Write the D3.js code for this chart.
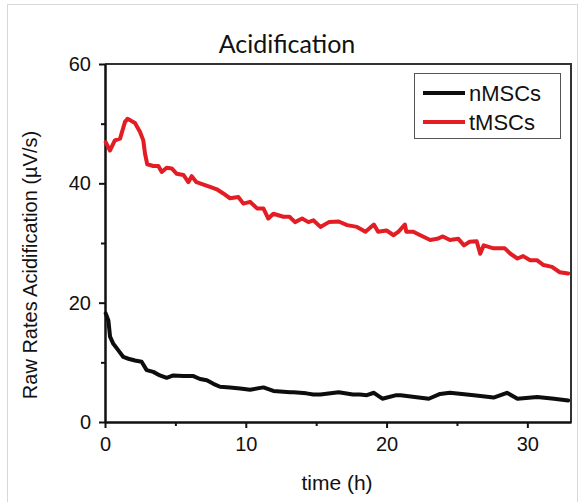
<!DOCTYPE html>
<html>
<head>
<meta charset="utf-8">
<script src="https://cdn.jsdelivr.net/npm/d3@7"></script>
<style>
  body { margin: 0; background: #fff; }
  svg { display: block; }
  .tick text { font-family: "Liberation Sans", Arial, sans-serif; font-size: 20px; fill: #111; }
</style>
</head>
<body>
<div id="chart"></div>
<script>
// Data (time in h, raw acidification rate in µV/s)
const tHours = [0.05, 0.35, 0.7, 1.07, 1.42, 1.6, 1.78, 2.13, 2.49, 2.72, 2.84, 3.0, 3.43, 3.79, 4.03, 4.38, 4.74,
  5.1, 5.57, 5.92, 6.16, 6.5, 7.0, 7.46, 7.94, 8.4, 8.88, 9.47, 9.83, 10.3, 10.8, 11.25, 11.6, 11.96, 12.67,
  13.1, 13.5, 14.0, 14.45, 14.8, 15.3, 15.9, 16.6, 17.2, 17.9, 18.5, 19.1, 19.4, 20.0, 20.5, 20.85, 21.3,
  21.4, 21.9, 22.4, 23.1, 23.6, 24.0, 24.5, 25.1, 25.5, 25.9, 26.4, 26.65, 26.9, 27.6, 28.1, 28.4, 28.8,
  29.3, 29.7, 30.2, 30.7, 31.15, 31.75, 32.3, 32.9];
const tValues = [46.9, 45.5, 47.2, 47.5, 50.3, 50.8, 50.6, 50.1, 48.6, 47.2, 45.0, 43.2, 42.9, 42.9, 41.9, 42.6, 42.5,
  41.6, 41.4, 40.2, 41.2, 40.2, 39.8, 39.4, 39.0, 38.3, 37.5, 37.7, 36.6, 36.9, 35.8, 35.8, 34.1, 34.9, 34.4,
  34.4, 33.5, 34.1, 33.5, 33.8, 32.7, 33.5, 33.6, 33.0, 32.7, 31.9, 33.1, 31.9, 32.1, 31.3, 31.9, 33.1,
  31.9, 31.9, 31.3, 30.5, 30.7, 31.1, 30.5, 30.7, 29.6, 30.2, 30.3, 28.2, 29.6, 29.1, 29.1, 29.1, 28.2,
  27.4, 27.8, 27.1, 27.1, 26.3, 26.0, 25.1, 24.9];

const nHours = [0.05, 0.24, 0.36, 0.59, 0.95, 1.3, 1.66, 2.13, 2.6, 2.96, 3.43, 3.9, 4.38, 4.85, 5.57, 6.28, 6.75,
  7.23, 7.7, 8.17, 8.88, 9.6, 10.3, 11.25, 11.96, 13.15, 13.4, 14.3, 14.8, 15.3, 16.6, 17.6, 18.1, 18.6,
  19.1, 19.7, 20.7, 21.0, 23.0, 23.8, 24.5, 26.2, 27.6, 28.55, 29.3, 30.7, 31.9, 32.9];
const nValues = [18.2, 17.0, 14.3, 13.1, 12.0, 10.9, 10.6, 10.3, 10.1, 8.7, 8.4, 7.8, 7.4, 7.8, 7.7, 7.7, 7.2,
  7.0, 6.4, 5.9, 5.8, 5.6, 5.4, 5.8, 5.2, 5.0, 5.0, 4.8, 4.6, 4.6, 5.0, 4.6, 4.6, 4.5,
  4.9, 3.9, 4.5, 4.5, 3.9, 4.7, 4.9, 4.5, 4.1, 4.9, 3.9, 4.2, 3.9, 3.6];

const seriesNames = ["nMSCs", "tMSCs"];
const xMajor = [0, 10, 20, 30];
const xMinor = [5, 15, 25];
const yMajor = [0, 20, 40, 60];
const yMinor = [10, 30, 50];

const colors = { nMSCs: "#0d0d0d", tMSCs: "#e21d24" };

const W = 581, H = 502;
const plot = { left: 105, right: 571, top: 64, bottom: 422 };

const svg = d3.select("#chart").append("svg").attr("width", W).attr("height", H);

// light outer frame
svg.append("rect").attr("x", 7.5).attr("y", 4.5).attr("width", 570).attr("height", 520)
  .attr("fill", "none").attr("stroke", "#d8d8d8").attr("stroke-width", 1);

const x = d3.scaleLinear().domain([0, 33.1]).range([plot.left, plot.right]);
const y = d3.scaleLinear().domain([0, 60]).range([plot.bottom, plot.top]);

// top and right frame
svg.append("path")
  .attr("d", `M${plot.left},${plot.top}H${plot.right}V${plot.bottom}`)
  .attr("fill", "none").attr("stroke", "#333").attr("stroke-width", 2);

// x axis
svg.append("g").attr("transform", `translate(0,${plot.bottom})`)
  .call(d3.axisBottom(x).tickValues(xMajor).tickSize(6).tickSizeOuter(0).tickPadding(9));
svg.append("g").attr("transform", `translate(0,${plot.bottom})`)
  .call(d3.axisBottom(x).tickValues(xMinor).tickSize(4).tickSizeOuter(0).tickFormat(""));

// y axis
svg.append("g").attr("transform", `translate(${plot.left},0)`)
  .call(d3.axisLeft(y).tickValues(yMajor).tickSize(6).tickSizeOuter(0).tickPadding(8));
svg.append("g").attr("transform", `translate(${plot.left},0)`)
  .call(d3.axisLeft(y).tickValues(yMinor).tickSize(4).tickSizeOuter(0).tickFormat(""));

svg.selectAll(".domain").attr("stroke", "#111").attr("stroke-width", 2);
svg.selectAll(".tick line").attr("stroke", "#111").attr("stroke-width", 2);

// lines
const line = d3.line().x(d => x(d[0])).y(d => y(d[1]));
const nData = nHours.map((h, i) => [h, nValues[i]]);
const tData = tHours.map((h, i) => [h, tValues[i]]);

[[nData, "nMSCs"], [tData, "tMSCs"]].forEach(([data, key]) => {
  svg.append("path").datum(data)
    .attr("fill", "none")
    .attr("stroke", colors[key])
    .attr("stroke-width", 4)
    .attr("stroke-linejoin", "round")
    .attr("stroke-linecap", "round")
    .attr("d", line);
});

// title
svg.append("text").attr("x", 287).attr("y", 53).attr("text-anchor", "middle")
  .style("font-family", "Lato, 'Open Sans', sans-serif").style("font-size", "25px").style("fill", "#111")
  .text("Acidification");

// axis labels
svg.append("text").attr("x", 337).attr("y", 490).attr("text-anchor", "middle")
  .style("font-family", "'Liberation Sans', Arial, sans-serif").style("font-size", "21px").style("fill", "#111")
  .text("time (h)");

svg.append("text").attr("transform", `translate(37,${(plot.bottom + plot.top) / 2 + 22}) rotate(-90)`)
  .attr("text-anchor", "middle")
  .style("font-family", "'Liberation Sans', Arial, sans-serif").style("font-size", "20px").style("fill", "#111")
  .text("Raw Rates Acidification (µV/s)");

// legend
const legend = svg.append("g");
legend.append("rect").attr("x", 414.5).attr("y", 73.5).attr("width", 146).attr("height", 65)
  .attr("fill", "#fff").attr("stroke", "#555").attr("stroke-width", 1);
seriesNames.forEach((name, i) => {
  const ly = 93 + i * 29;
  legend.append("line").attr("x1", 423).attr("x2", 465).attr("y1", ly).attr("y2", ly)
    .attr("stroke", colors[name]).attr("stroke-width", 4);
  legend.append("text").attr("x", 469).attr("y", ly).attr("dy", "0.35em")
    .style("font-family", "'Liberation Sans', Arial, sans-serif").style("font-size", "22px").style("fill", "#111")
    .text(name);
});
</script>
</body>
</html>
